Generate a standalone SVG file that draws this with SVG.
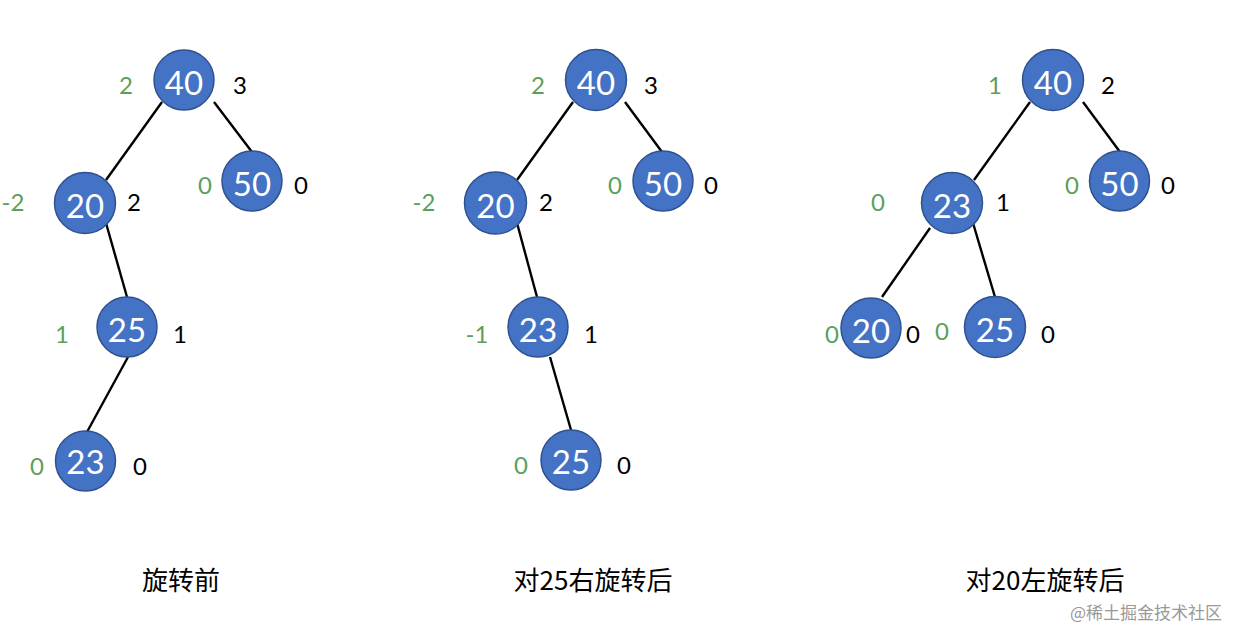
<svg xmlns="http://www.w3.org/2000/svg" width="1240" height="642" viewBox="0 0 1240 642">
<style>
.n circle{fill:#4472C4;stroke:#2F528F;stroke-width:1.5}
.n text.v{fill:#fff;font-family:Lato,"Open Sans",sans-serif;font-size:33px;text-anchor:middle}
.g{fill:#5AA05A;font-family:Lato,"Open Sans",sans-serif;font-size:24px;text-anchor:middle}
.b{fill:#000;font-family:Lato,"Open Sans",sans-serif;font-size:24px;text-anchor:middle}
.e line{stroke:#000;stroke-width:2.4}
.cap{font-family:"Noto Sans CJK SC",sans-serif;font-size:26px;text-anchor:middle;fill:#000}
.wm{font-family:"Noto Sans CJK SC",sans-serif;font-size:17px;fill:#999;text-anchor:end}
</style>
<rect width="1240" height="642" fill="#fff"/>
<g id="connectors" class="e">
<line x1="162" y1="102" x2="106" y2="180"/>
<line x1="214" y1="102" x2="252" y2="152"/>
<line x1="106" y1="223" x2="127" y2="297"/>
<line x1="128" y1="357" x2="87" y2="432"/>
<line x1="573" y1="102" x2="517" y2="180"/>
<line x1="625" y1="102" x2="662" y2="152"/>
<line x1="517" y1="223" x2="537" y2="297"/>
<line x1="550" y1="357" x2="571" y2="430"/>
<line x1="1030" y1="102" x2="974" y2="180"/>
<line x1="1083" y1="102" x2="1120" y2="152"/>
<line x1="930" y1="228" x2="882" y2="297"/>
<line x1="973" y1="223" x2="995" y2="297"/>
</g>
<g id="t1-40" class="n"><circle cx="184" cy="80" r="30"/><text class="v" x="184" y="95">40</text><text class="g" x="126" y="94">2</text><text class="b" x="240" y="94">3</text></g>
<g id="t1-50" class="n"><circle cx="252" cy="181" r="30"/><text class="v" x="252" y="196">50</text><text class="g" x="205" y="194">0</text><text class="b" x="301" y="194">0</text></g>
<g id="t1-20" class="n"><circle cx="85" cy="203" r="30.5"/><text class="v" x="85" y="218">20</text><text class="g" x="13" y="211">-2</text><text class="b" x="134" y="211">2</text></g>
<g id="t1-25" class="n"><circle cx="127" cy="327" r="30"/><text class="v" x="127" y="342">25</text><text class="g" x="62" y="343">1</text><text class="b" x="180" y="343">1</text></g>
<g id="t1-23" class="n"><circle cx="85.5" cy="461" r="30"/><text class="v" x="85.5" y="474">23</text><text class="g" x="37" y="475">0</text><text class="b" x="140" y="475">0</text></g>

<g id="t2-40" class="n"><circle cx="596" cy="80" r="30.5"/><text class="v" x="596" y="95">40</text><text class="g" x="538" y="94">2</text><text class="b" x="651" y="94">3</text></g>
<g id="t2-50" class="n"><circle cx="663" cy="181" r="30"/><text class="v" x="663" y="196">50</text><text class="g" x="615" y="194">0</text><text class="b" x="711" y="194">0</text></g>
<g id="t2-20" class="n"><circle cx="495.5" cy="203" r="31"/><text class="v" x="495.5" y="218">20</text><text class="g" x="424" y="211">-2</text><text class="b" x="546" y="211">2</text></g>
<g id="t2-23" class="n"><circle cx="538" cy="327" r="30"/><text class="v" x="538" y="342">23</text><text class="g" x="477" y="343">-1</text><text class="b" x="591" y="343">1</text></g>
<g id="t2-25" class="n"><circle cx="571" cy="460" r="30"/><text class="v" x="571" y="474">25</text><text class="g" x="521" y="474">0</text><text class="b" x="624" y="474">0</text></g>

<g id="t3-40" class="n"><circle cx="1053" cy="80" r="30.5"/><text class="v" x="1053" y="95">40</text><text class="g" x="995" y="94">1</text><text class="b" x="1108" y="94">2</text></g>
<g id="t3-50" class="n"><circle cx="1119.5" cy="181" r="30"/><text class="v" x="1119.5" y="196">50</text><text class="g" x="1072" y="194">0</text><text class="b" x="1168" y="194">0</text></g>
<g id="t3-23" class="n"><circle cx="952" cy="203" r="30.5"/><text class="v" x="952" y="218">23</text><text class="g" x="878" y="211">0</text><text class="b" x="1003" y="211">1</text></g>
<g id="t3-20" class="n"><circle cx="871" cy="328" r="30"/><text class="v" x="871" y="343">20</text><text class="g" x="832" y="343">0</text><text class="b" x="913" y="343">0</text></g>
<g id="t3-25" class="n"><circle cx="995" cy="327" r="30.5"/><text class="v" x="995" y="342">25</text><text class="g" x="942" y="340">0</text><text class="b" x="1048" y="343">0</text></g>

<text class="cap" x="181" y="590">旋转前</text>
<text class="cap" x="593" y="590">对25右旋转后</text>
<text class="cap" x="1045" y="590">对20左旋转后</text>
<text class="wm" x="1222" y="619">@稀土掘金技术社区</text>
</svg>
